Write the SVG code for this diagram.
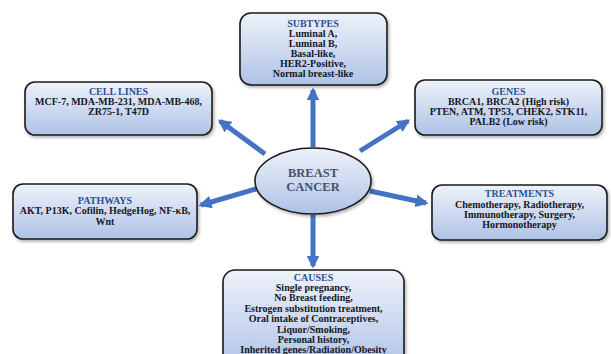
<svg xmlns="http://www.w3.org/2000/svg" width="611" height="354" viewBox="0 0 611 354">
<defs>
<linearGradient id="g" x1="0" y1="0" x2="0" y2="1">
<stop offset="0" stop-color="#eef2fa"/>
<stop offset="1" stop-color="#aec2e6"/>
</linearGradient>
<filter id="sh" x="-10%" y="-10%" width="130%" height="140%">
<feDropShadow dx="1.5" dy="2" stdDeviation="1.5" flood-color="#000" flood-opacity="0.3"/>
</filter>
<marker id="ah" viewBox="0 0 10 10" refX="8" refY="5" markerWidth="2.6" markerHeight="2.6" orient="auto" markerUnits="strokeWidth">
<path d="M0,0 L10,5 L0,10 Z" fill="#4472c4"/>
</marker>
</defs>
<style>
.box{fill:url(#g);stroke:#1a1a1a;stroke-width:1.6;filter:url(#sh)}
.t{font-family:"Liberation Serif","Times New Roman",serif;font-weight:bold;font-size:10px;text-anchor:middle}
.h{fill:#2f4f8f}
.b{fill:#141824}
.c{font-family:"Liberation Serif","Times New Roman",serif;font-weight:bold;font-size:12.5px;fill:#46506a;text-anchor:middle}
.ar{stroke:#4472c4;stroke-width:5;fill:none;marker-end:url(#ah)}
</style>
<rect width="611" height="354" fill="#ffffff"/>
<g id="connectors">
<line class="ar" x1="313" y1="147" x2="313" y2="90"/>
<line class="ar" x1="265" y1="154" x2="220" y2="121"/>
<line class="ar" x1="360" y1="151" x2="408" y2="121"/>
<line class="ar" x1="256" y1="189" x2="201" y2="205"/>
<line class="ar" x1="370" y1="191" x2="426" y2="203"/>
<line class="ar" x1="313" y1="215" x2="313" y2="266"/>
</g>
<g id="center">
<ellipse cx="313" cy="181" rx="58" ry="33" class="box"/>
<text class="c" x="313" y="177">BREAST</text>
<text class="c" x="313" y="191">CANCER</text>
</g>
<g id="subtypes">
<rect x="240" y="13" width="147" height="72" rx="11" class="box"/>
<text class="t h" x="313" y="27">SUBTYPES</text>
<text class="t b" x="313" y="37">Luminal  A,</text>
<text class="t b" x="313" y="46.5">Luminal  B,</text>
<text class="t b" x="313" y="56.5">Basal-like,</text>
<text class="t b" x="313" y="67">HER2-Positive,</text>
<text class="t b" x="313" y="77">Normal breast-like</text>
</g>
<g id="celllines">
<rect x="25" y="82" width="187" height="53" rx="10" class="box"/>
<text class="t h" x="118.5" y="95">CELL  LINES</text>
<text class="t b" x="118.5" y="105">MCF-7, MDA-MB-231, MDA-MB-468,</text>
<text class="t b" x="118.5" y="115">ZR75-1, T47D</text>
</g>
<g id="genes">
<rect x="415" y="80" width="187" height="55" rx="10" class="box"/>
<text class="t h" x="508.5" y="95">GENES</text>
<text class="t b" x="508.5" y="105">BRCA1, BRCA2 (High risk)</text>
<text class="t b" x="508.5" y="115">PTEN, ATM, TP53, CHEK2, STK11,</text>
<text class="t b" x="508.5" y="125">PALB2 (Low  risk)</text>
</g>
<g id="pathways">
<rect x="13" y="184" width="184" height="55" rx="10" class="box"/>
<text class="t h" x="105" y="204">PATHWAYS</text>
<text class="t b" x="105" y="214">AKT, P13K, Cofilin,  HedgeHog, NF-κB,</text>
<text class="t b" x="105" y="225">Wnt</text>
</g>
<g id="treatments">
<rect x="432" y="185" width="175" height="55" rx="10" class="box"/>
<text class="t h" x="519.5" y="197">TREATMENTS</text>
<text class="t b" x="519.5" y="208">Chemotherapy,  Radiotherapy,</text>
<text class="t b" x="519.5" y="218">Immunotherapy,  Surgery,</text>
<text class="t b" x="519.5" y="228">Hormonotherapy</text>
</g>
<g id="causes">
<rect x="223" y="270" width="181" height="100" rx="12" class="box"/>
<text class="t h" x="313.5" y="281">CAUSES</text>
<text class="t b" x="313.5" y="291">Single pregnancy,</text>
<text class="t b" x="313.5" y="301">No Breast feeding,</text>
<text class="t b" x="313.5" y="312">Estrogen substitution  treatment,</text>
<text class="t b" x="313.5" y="322">Oral intake of Contraceptives,</text>
<text class="t b" x="313.5" y="333">Liquor/Smoking,</text>
<text class="t b" x="313.5" y="343">Personal history,</text>
<text class="t b" x="313.5" y="353">Inherited  genes/Radiation/Obesity</text>
</g>
</svg>
